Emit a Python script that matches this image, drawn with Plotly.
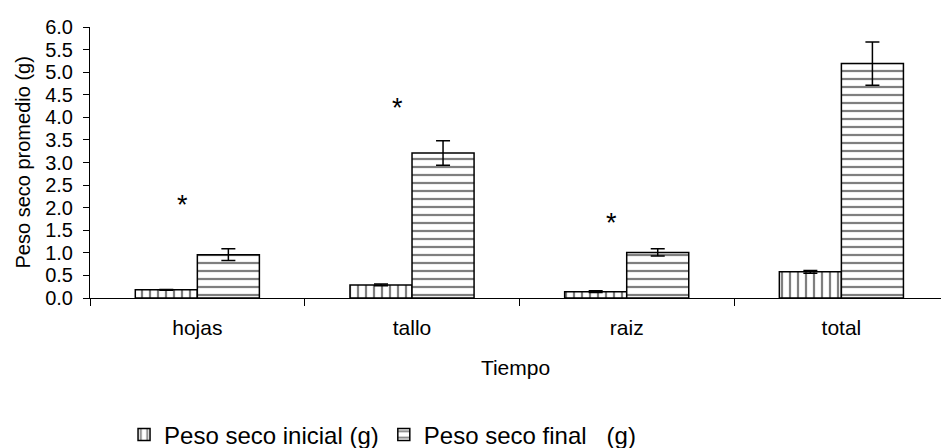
import plotly.graph_objects as go

categories = ["hojas", "tallo", "raiz", "total"]
inicial = [0.18, 0.29, 0.14, 0.58]
inicial_err = [0.01, 0.02, 0.02, 0.03]
final = [0.96, 3.21, 1.01, 5.19]
final_err = [0.13, 0.27, 0.08, 0.48]
star_y = [2.05, 4.2, 1.66, 6.15]
y_ticks = [0.0, 0.5, 1.0, 1.5, 2.0, 2.5, 3.0, 3.5, 4.0, 4.5, 5.0, 5.5, 6.0]

FONT = "Liberation Sans, Arial, sans-serif"

fig = go.Figure()
fig.add_trace(go.Bar(
    name="Peso seco inicial (g)", x=categories, y=inicial,
    error_y=dict(type="data", array=inicial_err, color="black", thickness=1.5, width=7),
    marker=dict(color="white", line=dict(color="black", width=1.5),
                pattern=dict(shape="|", size=8, solidity=0.28, fgcolor="black", bgcolor="white")),
))
fig.add_trace(go.Bar(
    name="Peso seco final\u00a0\u00a0\u00a0(g)", x=categories, y=final,
    error_y=dict(type="data", array=final_err, color="black", thickness=1.5, width=7),
    marker=dict(color="white", line=dict(color="black", width=1.5),
                pattern=dict(shape="-", size=8, solidity=0.28, fgcolor="black", bgcolor="white")),
))

for c, yv in zip(categories, star_y):
    fig.add_annotation(x=c, y=yv, text="*", showarrow=False, xshift=-15,
                       font=dict(family=FONT, size=27, color="black"))

# y-axis title as annotation for exact placement
fig.add_annotation(xref="paper", yref="paper", x=-0.0799, y=0.5, xanchor="center", yanchor="middle",
                   text="Peso seco promedio (g)", textangle=-90, showarrow=False,
                   font=dict(family=FONT, size=20, color="black"))

fig.update_layout(
    width=941, height=448,
    margin=dict(l=90, r=0, t=27, b=150, autoexpand=False),
    paper_bgcolor="white", plot_bgcolor="white",
    barmode="group", bargap=0.422, bargroupgap=0,
    font=dict(family=FONT, size=20, color="black"),
    showlegend=True,
    legend=dict(orientation="h", x=0.04, xanchor="left", y=-0.505, yanchor="middle",
                font=dict(family=FONT, size=24, color="black"), itemwidth=30,
                bgcolor="rgba(0,0,0,0)"),
)
fig.update_xaxes(
    range=[-0.5, 3.464], showline=True, linecolor="black", linewidth=1,
    ticks="outside", tickson="boundaries", ticklen=7, tickcolor="black",
    showgrid=False, zeroline=False, ticklabelstandoff=11,
    tickfont=dict(family=FONT, size=21),
    title=dict(text="Tiempo", font=dict(family=FONT, size=21), standoff=22),
)
fig.update_yaxes(
    range=[0, 6], tickvals=y_ticks, ticktext=[f"{v:.1f}" for v in y_ticks],
    showline=True, linecolor="black", linewidth=1,
    ticks="outside", ticklen=6, tickcolor="black", ticklabelstandoff=6,
    tickfont=dict(family=FONT, size=20),
    showgrid=False, zeroline=False,
)

fig.write_html("out.html", config={"displayModeBar": False},
               post_script="document.body.style.margin='0';document.body.style.overflow='hidden';")
